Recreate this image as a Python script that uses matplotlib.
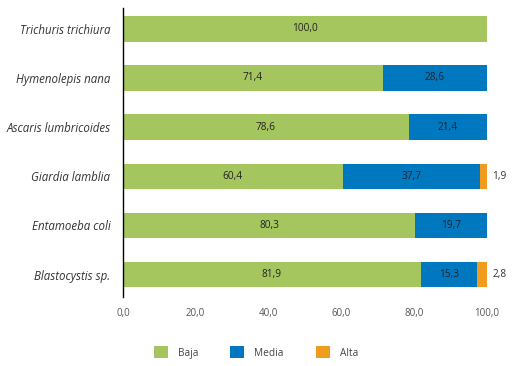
import matplotlib
matplotlib.use("Agg")
import matplotlib.pyplot as plt

categories = ["Trichuris trichiura", "Hymenolepis nana", "Ascaris lumbricoides",
              "Giardia lamblia", "Entamoeba coli", "Blastocystis sp."]
baja = [100.0, 71.4, 78.6, 60.4, 80.3, 81.9]
media = [0.0, 28.6, 21.4, 37.7, 19.7, 15.3]
alta = [0.0, 0.0, 0.0, 1.9, 0.0, 2.8]
series_names = ["Baja", "Media", "Alta"]
xticks = [0, 20, 40, 60, 80, 100]

colors = ["#A5C65E", "#0078C0", "#F09C1E"]
plt.rcParams['font.family'] = ['Open Sans', 'DejaVu Sans']

fig = plt.figure(figsize=(5.12, 3.66), dpi=100)
ax = fig.add_axes([0.240, 0.189, 0.711, 0.789])

y = list(range(len(categories)))
h = 0.52
left = [0.0] * len(categories)
for vals, name, c in zip([baja, media, alta], series_names, colors):
    ax.barh(y, vals, left=left, height=h, color=c, label=name)
    for i, v in enumerate(vals):
        if v <= 0:
            continue
        if name == "Alta":
            ax.text(left[i] + v + 1.5, i, f"{v:.1f}".replace(".", ","),
                    ha="left", va="center", fontsize=7.3, color="#333333", clip_on=False)
        else:
            ax.text(left[i] + v / 2, i, f"{v:.1f}".replace(".", ","),
                    ha="center", va="center", fontsize=7.3, color="#222222")
    left = [l + v for l, v in zip(left, vals)]

ax.set_xlim(0, 100)
ax.set_ylim(len(categories) - 0.55, -0.42)
ax.set_yticks(y)
ax.set_yticklabels(categories, fontstyle="italic", fontsize=8.3, color="#333333")
ax.set_xticks(xticks)
ax.set_xticklabels([f"{t:.1f}".replace(".", ",") for t in xticks], fontsize=7, color="#555555")
ax.tick_params(axis="y", length=0, pad=9)
ax.tick_params(axis="x", length=0, pad=8)
for s in ["top", "right", "bottom"]:
    ax.spines[s].set_visible(False)
ax.spines["left"].set_color("black")
ax.spines["left"].set_linewidth(1.0)

fig.legend(loc="lower center", bbox_to_anchor=(0.5, -0.005), ncol=3, frameon=False,
           fontsize=7.3, handlelength=1.35, handleheight=1.4, columnspacing=3.2,
           handletextpad=1.0, labelcolor="#444444")

fig.savefig("out.png", dpi=100)
